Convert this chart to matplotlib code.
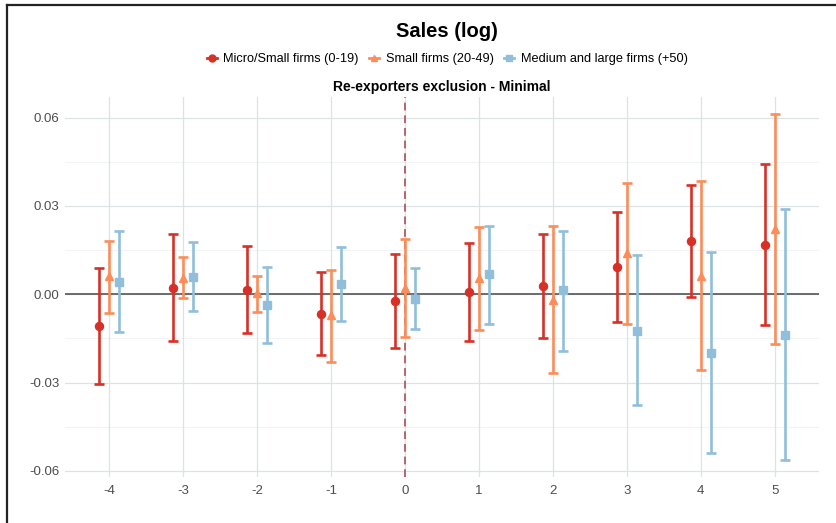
import numpy as np
import matplotlib.pyplot as plt
from matplotlib.lines import Line2D

plt.rcParams['font.family'] = ['Liberation Sans', 'DejaVu Sans']
plt.rcParams['axes.unicode_minus'] = False

# event time relative to treatment
periods = [-4, -3, -2, -1, 0, 1, 2, 3, 4, 5]

# Micro/Small firms (0-19)
micro_est = [-0.0107, 0.0022, 0.0015, -0.0066, -0.0023, 0.0007, 0.0028, 0.0092, 0.0180, 0.0168]
micro_lo = [-0.0305, -0.0159, -0.0133, -0.0206, -0.0184, -0.0159, -0.0148, -0.0094, -0.0011, -0.0105]
micro_hi = [0.0090, 0.0205, 0.0165, 0.0077, 0.0138, 0.0175, 0.0205, 0.0278, 0.0370, 0.0443]

# Small firms (20-49)
small_est = [0.0061, 0.0056, 0.0005, -0.0071, 0.0022, 0.0055, -0.0019, 0.0140, 0.0063, 0.0222]
small_lo = [-0.0063, -0.0013, -0.0059, -0.0231, -0.0144, -0.0122, -0.0269, -0.0102, -0.0257, -0.0169]
small_hi = [0.0181, 0.0126, 0.0062, 0.0083, 0.0186, 0.0229, 0.0231, 0.0378, 0.0383, 0.0611]

# Medium and large firms (+50)
large_est = [0.0043, 0.0060, -0.0035, 0.0034, -0.0015, 0.0067, 0.0013, -0.0124, -0.0201, -0.0137]
large_lo = [-0.0128, -0.0058, -0.0165, -0.0092, -0.0119, -0.0101, -0.0193, -0.0378, -0.0541, -0.0562]
large_hi = [0.0215, 0.0179, 0.0093, 0.0161, 0.0089, 0.0233, 0.0215, 0.0133, 0.0142, 0.0289]

y_major = [-0.06, -0.03, 0.0, 0.03, 0.06]
y_minor = [-0.045, -0.015, 0.015, 0.045]

groups = [
    ('Micro/Small firms (0-19)', micro_est, micro_lo, micro_hi, '#d73027', 'o', -0.135),
    ('Small firms (20-49)', small_est, small_lo, small_hi, '#fc8d59', '^', 0.0),
    ('Medium and large firms (+50)', large_est, large_lo, large_hi, '#91bfdb', 's', 0.135),
]

fig = plt.figure(figsize=(8.36, 5.23), dpi=100)
ax = fig.add_axes([0.0778, 0.088, 0.902, 0.7265])

x = np.array(periods, dtype=float)
handles = []
for label, est, lo, hi, color, marker, shift in groups:
    est = np.array(est)
    yerr = [est - np.array(lo), np.array(hi) - est]
    ax.errorbar(x + shift, est, yerr=yerr, fmt=marker, color=color, ms=5.8,
                elinewidth=1.9, capsize=3.8, capthick=1.9, zorder=3)
    handles.append(Line2D([0], [0], color=color, marker=marker, ms=5, lw=2, label=label))

# lighter minor gridlines between the labelled ones
for v in y_minor:
    ax.axhline(v, color='#f1f3f4', lw=0.8, zorder=0)

ax.axhline(0, color='#555555', lw=1.2, zorder=2)
ax.axvline(0, color='#b5656c', lw=1.4, ls=(0, (4, 2.5)), zorder=2)

ax.set_xlim(-4.6, 5.6)
ax.set_ylim(-0.0621, 0.0670)
ax.set_xticks(periods)
ax.set_yticks(y_major)
ax.set_yticklabels([f'{v:.2f}' for v in y_major])
ax.grid(True, which='major', color='#dde2e4', lw=0.9)
ax.set_axisbelow(True)
for s in ax.spines.values():
    s.set_visible(False)
ax.tick_params(length=0, labelsize=9.5, labelcolor='#4d4d4d')
ax.tick_params(axis='x', pad=6)
ax.tick_params(axis='y', pad=4)

ax.set_title('Re-exporters exclusion - Minimal', fontsize=10, fontweight='bold', pad=4)
fig.text(0.535, 0.94, 'Sales (log)', ha='center', va='center', fontsize=14.5, fontweight='bold')
fig.legend(handles=handles, loc='center', bbox_to_anchor=(0.535, 0.887), ncol=3, frameon=False,
           fontsize=9.2, handlelength=0.8, handletextpad=0.5, columnspacing=0.8)

# frame edges at top and left
fig.add_artist(Line2D([7 / 836, 1], [1 - 5 / 523, 1 - 5 / 523], color='#222222', lw=1.6))
fig.add_artist(Line2D([7 / 836, 7 / 836], [0, 1 - 5 / 523], color='#222222', lw=1.6))

fig.savefig('out.png', dpi=100)
